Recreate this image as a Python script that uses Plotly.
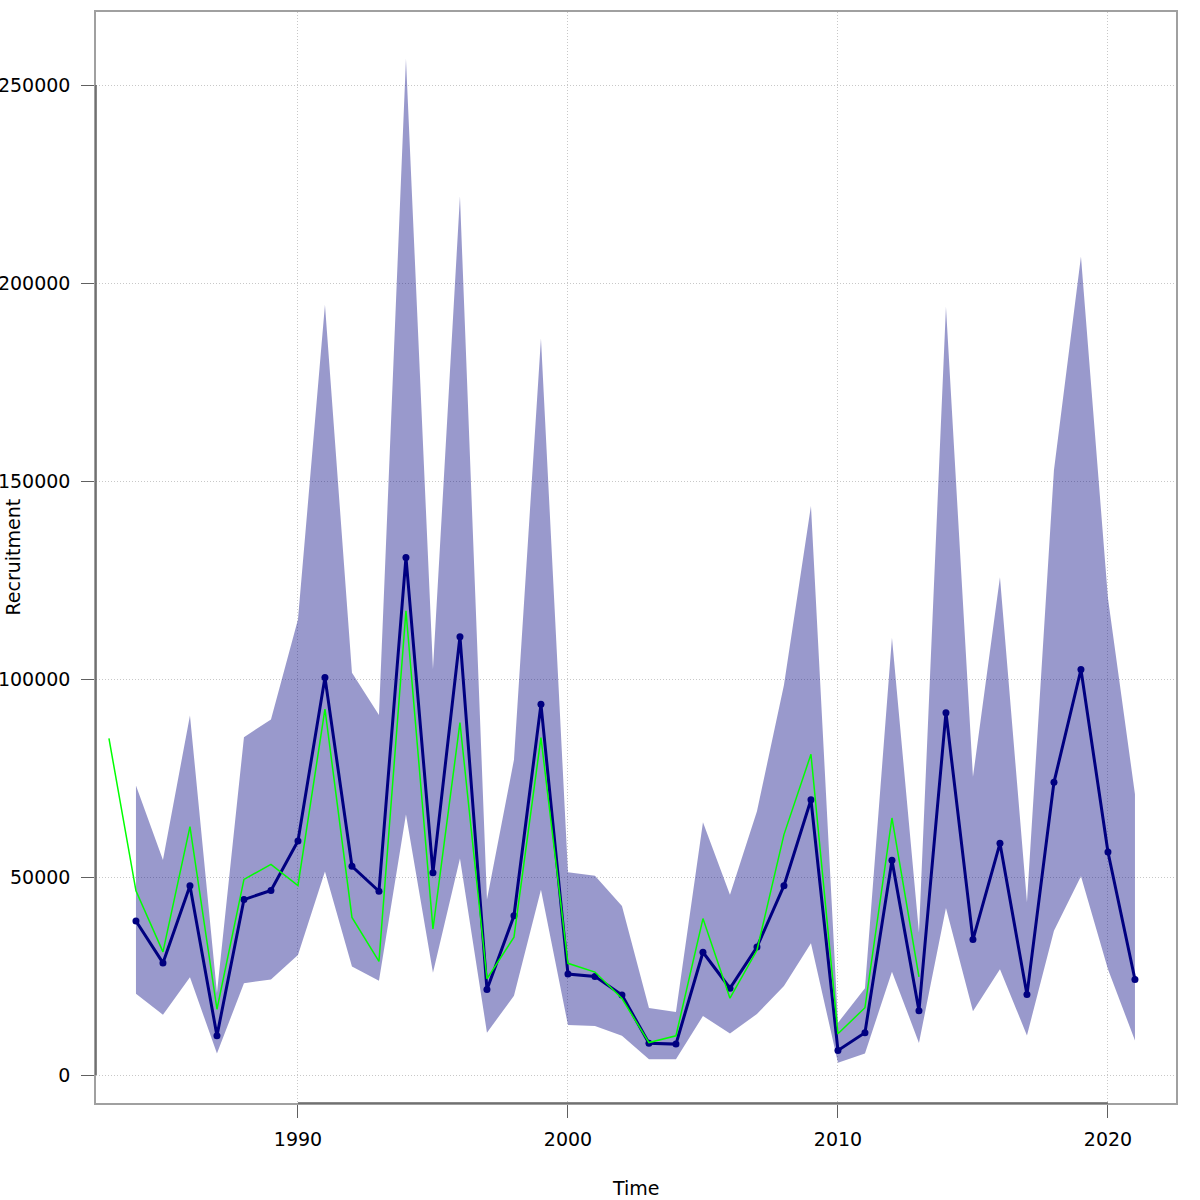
import plotly.graph_objects as go

# Recruitment estimates with confidence band, plus the earlier (green) series
years = list(range(1984, 2022))
recruitment = [38900, 28300, 47800, 9900, 44300, 46600, 59100, 100400, 52700, 46400,
               130700, 51100, 110700, 21600, 40200, 93600, 25500, 24900, 20200, 8000,
               7800, 31000, 21900, 32300, 47800, 69500, 6200, 10700, 54200, 16200,
               91500, 34200, 58500, 20300, 73900, 102400, 56300, 24100]
upper = [73100, 54300, 90800, 20700, 85300, 89800, 115000, 194500, 101600, 90900,
         256600, 102500, 221900, 44300, 79600, 186000, 51200, 50300, 42700, 16900,
         15900, 63800, 45500, 66600, 98500, 143700, 13200, 21900, 110400, 36000,
         194000, 75300, 125700, 43600, 152800, 206700, 120400, 70900]
lower = [20500, 15200, 24700, 5400, 23200, 24100, 30300, 51400, 27400, 23800,
         65800, 25800, 54700, 10700, 20000, 46800, 12600, 12400, 9900, 4000,
         4000, 14900, 10500, 15400, 22500, 33300, 3100, 5400, 26100, 8100,
         42200, 16100, 26700, 10000, 36400, 50200, 26700, 8700]

old_years = list(range(1983, 2014))
old_recruitment = [85000, 46500, 31100, 62700, 16600, 49400, 53200, 47800, 92400, 39800,
                   28700, 117200, 36900, 89000, 24300, 34800, 85200, 28200, 26000, 19300,
                   8200, 9900, 39500, 19400, 31500, 60700, 81000, 10400, 17000, 64900,
                   24800]

x_ticks = [1990, 2000, 2010, 2020]
y_ticks = [0, 50000, 100000, 150000, 200000, 250000]

FONT = "DejaVu Sans"
BOX_COLOR = "#A0A0A0"
AXIS_COLOR = "#606060"
GRID_DASH = "1px,2px"

fig = go.Figure()

# Confidence band as a closed polygon
fig.add_trace(go.Scatter(
    x=years + years[::-1],
    y=upper + lower[::-1],
    fill="toself",
    fillcolor="rgba(0,0,128,0.4)",
    line=dict(width=0),
    mode="lines",
    hoverinfo="skip",
))

fig.add_trace(go.Scatter(
    x=years, y=recruitment,
    mode="lines+markers",
    line=dict(color="#000080", width=3),
    marker=dict(color="#000080", size=7),
))

fig.add_trace(go.Scatter(
    x=old_years, y=old_recruitment,
    mode="lines",
    line=dict(color="#00FF00", width=1.5),
))

# R-style axis segments spanning the tick range (box is lighter)
fig.add_shape(type="line", xref="x", yref="paper",
              x0=x_ticks[0], x1=x_ticks[-1], y0=0, y1=0,
              line=dict(color=AXIS_COLOR, width=1.5))
fig.add_shape(type="line", xref="paper", yref="y",
              x0=0, x1=0, y0=y_ticks[0], y1=y_ticks[-1],
              line=dict(color=AXIS_COLOR, width=1.5))

# Axis titles placed like R's mtext lines
fig.add_annotation(text="Time", xref="paper", yref="paper", x=0.5, y=0,
                   yshift=-85, showarrow=False, xanchor="center", yanchor="middle")
fig.add_annotation(text="Recruitment", xref="paper", yref="paper", x=0, y=0.5,
                   xshift=-84, textangle=-90, showarrow=False,
                   xanchor="center", yanchor="middle")

fig.update_xaxes(
    range=[1982.52, 2022.52],
    tickvals=x_ticks,
    ticktext=[str(v) for v in x_ticks],
    ticks="outside", ticklen=13, tickcolor=AXIS_COLOR, tickwidth=1.2,
    showline=True, mirror=True, linecolor=BOX_COLOR, linewidth=1.5,
    showgrid=True, gridcolor="#C8C8C8", griddash=GRID_DASH, gridwidth=1,
    zeroline=False,
    ticklabelstandoff=5,
)
fig.update_yaxes(
    range=[-7071, 268434],
    tickvals=y_ticks,
    ticktext=[str(v) for v in y_ticks],
    ticks="outside", ticklen=13, tickcolor=AXIS_COLOR, tickwidth=1.2,
    showline=True, mirror=True, linecolor=BOX_COLOR, linewidth=1.5,
    showgrid=True, gridcolor="#C8C8C8", griddash=GRID_DASH, gridwidth=1,
    zeroline=False,
    ticklabelstandoff=7,
)

fig.update_layout(
    width=1200, height=1200,
    margin=dict(l=96, r=24, t=12, b=97, autoexpand=False),
    paper_bgcolor="white", plot_bgcolor="white",
    font=dict(family=FONT, size=19, color="black"),
    showlegend=False,
)

# drop the browser's default body margin so the figure sits at the page corner
fig.write_html("out.html", config={"displayModeBar": False},
               post_script="document.body.style.margin='0';")
